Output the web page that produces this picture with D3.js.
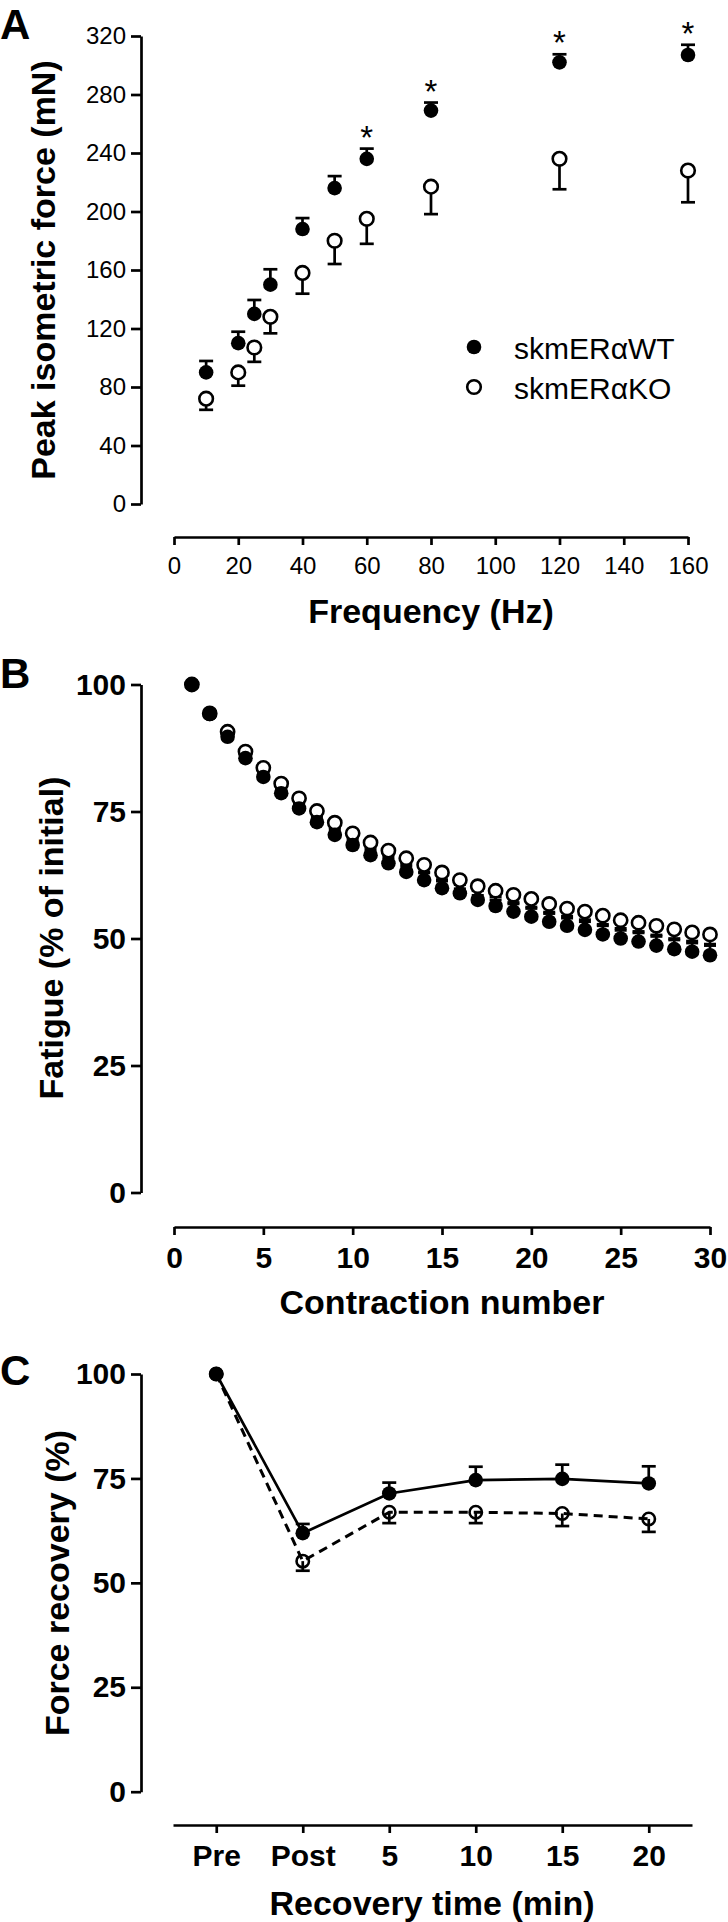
<!DOCTYPE html>
<html><head><meta charset="utf-8">
<script src="https://cdn.jsdelivr.net/npm/d3@7"></script>
<style>
body{margin:0;background:#fff}
svg{display:block}
text{font-family:"Liberation Sans",Arial,Helvetica,sans-serif;fill:#000}
</style>
</head><body>
<svg id="chart" width="728" height="1922"></svg>
<script>
// ---------- Panel A: force-frequency ----------
const freqHz      = [10, 20, 25, 30, 40, 50, 60, 80, 120, 160];
const forceWT     = [90, 110, 130, 150, 188, 216, 236, 269, 302, 307];
const forceWTsem  = [7.8, 7.8, 9.5, 10.5, 7.5, 8.2, 7, 5.5, 5.5, 7];
const forceKO     = [72, 90, 107, 128, 158, 180, 195, 217, 236, 228];
const forceKOsem  = [7.6, 9.1, 9.8, 11.3, 14.2, 15.9, 17.1, 18.8, 20.8, 21.7];
const sigFreq     = [60, 80, 120, 160];
const forceTicksY = [0, 40, 80, 120, 160, 200, 240, 280, 320];
const freqTicksX  = [0, 20, 40, 60, 80, 100, 120, 140, 160];

// ---------- Panel B: fatigue ----------
const contraction  = [1,2,3,4,5,6,7,8,9,10,11,12,13,14,15,16,17,18,19,20,21,22,23,24,25,26,27,28,29,30];
const fatigueWT    = [100,94.2,89.7,85.5,81.8,78.6,75.6,72.9,70.4,68.4,66.4,64.8,63.1,61.5,59.9,58.9,57.6,56.4,55.3,54.3,53.3,52.5,51.7,50.8,50.0,49.4,48.6,47.9,47.4,46.7];
const fatigueWTsem = [0,0.8,1,1,1.1,1.2,1.2,1.3,1.4,1.4,1.5,1.5,1.6,1.6,1.7,1.7,1.8,1.8,1.8,1.9,1.9,1.9,2,2,2,2,2.1,2.1,2.1,2.2];
const fatigueKO    = [100,94.3,90.7,86.8,83.6,80.5,77.6,75.1,72.8,70.7,68.9,67.3,65.8,64.5,63.0,61.5,60.3,59.4,58.6,57.8,56.8,55.9,55.3,54.5,53.6,53.1,52.5,51.8,51.2,50.8];
const fatigueKOsem = [0,0.8,1,1,1.1,1.2,1.2,1.3,1.4,1.4,1.5,1.5,1.6,1.6,1.7,1.7,1.8,1.8,1.8,1.9,1.9,1.9,2,2,2,2,2.1,2.1,2.1,2.2];
const fatigueTicksY = [0, 25, 50, 75, 100];
const contractionTicksX = [0, 5, 10, 15, 20, 25, 30];

// ---------- Panel C: recovery ----------
const recoveryTime  = ["Pre", "Post", "5", "10", "15", "20"];
const recoveryWT    = [100, 61.9, 71.4, 74.6, 74.9, 73.8];
const recoveryWTsem = [0, 2.2, 2.6, 3.2, 3.4, 4.1];
const recoveryKO    = [100, 55.2, 66.9, 66.9, 66.6, 65.3];
const recoveryKOsem = [0, 2.3, 2.6, 2.6, 3.0, 3.1];
const recoveryTicksY = [0, 25, 50, 75, 100];

const seriesNames = ["skmER\u03b1WT", "skmER\u03b1KO"];

// ---------- drawing ----------
const svg = d3.select("#chart");
const SW = 2.7;
const AXX = 141;

function styleAxis(g, fontSize, weight) {
  g.attr("font-family", null).attr("font-size", null);
  g.select(".domain").attr("stroke", "#000").attr("stroke-width", SW);
  g.selectAll(".tick line").attr("stroke", "#000").attr("stroke-width", SW);
  g.selectAll(".tick text").attr("font-size", fontSize).attr("font-weight", weight).attr("fill", "#000");
}

function yAxis(y, ticks, fs, fw) {
  const g = svg.append("g").attr("transform", `translate(${AXX},0)`)
    .call(d3.axisLeft(y).tickValues(ticks).tickSize(10).tickSizeOuter(0).tickPadding(5));
  styleAxis(g, fs, fw);
}
function xAxis(x, ticks, yPos, fs, fw) {
  const ax = d3.axisBottom(x).tickSize(8).tickSizeOuter(0).tickPadding(12);
  if (ticks) ax.tickValues(ticks);
  const g = svg.append("g").attr("transform", `translate(0,${yPos})`).call(ax);
  styleAxis(g, fs, fw);
}
function yTitle(txt, xBase, yc) {
  svg.append("text").attr("transform", `translate(${xBase},${yc}) rotate(-90)`)
    .attr("text-anchor", "middle").attr("font-size", 34).attr("font-weight", "bold").text(txt);
}
function xTitle(txt, xc, yBase) {
  svg.append("text").attr("x", xc).attr("y", yBase)
    .attr("text-anchor", "middle").attr("font-size", 34).attr("font-weight", "bold").text(txt);
}
function panelLabel(txt, yBase) {
  svg.append("text").attr("x", 0).attr("y", yBase)
    .attr("font-size", 42).attr("font-weight", "bold").text(txt);
}
function errBars(g, xs, vals, sems, x, y, dir, cap) {
  xs.forEach((xv, i) => {
    if (!sems[i]) return;
    const cx = x(xv), cy = y(vals[i]), ey = y(vals[i] + dir * sems[i]);
    g.append("line").attr("x1", cx).attr("x2", cx).attr("y1", cy).attr("y2", ey)
      .attr("stroke", "#000").attr("stroke-width", SW);
    g.append("line").attr("x1", cx - cap / 2).attr("x2", cx + cap / 2).attr("y1", ey).attr("y2", ey)
      .attr("stroke", "#000").attr("stroke-width", SW);
  });
}
function markers(g, xs, vals, x, y, filled, r, fillOpen) {
  g.selectAll(null).data(xs).join("circle")
    .attr("cx", d => x(d)).attr("cy", (d, i) => y(vals[i])).attr("r", r)
    .attr("fill", filled ? "#000" : fillOpen)
    .attr("stroke", "#000").attr("stroke-width", filled ? 0 : 2.6);
}

// ===== Panel A =====
{
  const x = d3.scaleLinear().domain([0, 160]).range([174, 688]);
  const y = d3.scaleLinear().domain([0, 320]).range([504, 36]);
  yAxis(y, forceTicksY, 24, "normal");
  xAxis(x, freqTicksX, 537, 24, "normal");
  panelLabel("A", 39);
  yTitle("Peak isometric force (mN)", 55, 270);
  xTitle("Frequency (Hz)", 431, 623);
  const g = svg.append("g");
  errBars(g, freqHz, forceKO, forceKOsem, x, y, -1, 14);
  errBars(g, freqHz, forceWT, forceWTsem, x, y, 1, 14);
  markers(g, freqHz, forceKO, x, y, false, 6.8, "#fff");
  markers(g, freqHz, forceWT, x, y, true, 7.3);
  // significance asterisks
  sigFreq.forEach(f => {
    const i = freqHz.indexOf(f);
    const capY = y(forceWT[i] + forceWTsem[i]);
    g.append("text").attr("x", x(f)).attr("y", capY).attr("text-anchor", "middle")
      .attr("font-size", 33).text("*");
  });
  // legend
  const lg = svg.append("g");
  [[347, true], [387, false]].forEach(([ly, f], k) => {
    lg.append("circle").attr("cx", 474).attr("cy", ly).attr("r", f ? 7.3 : 6.8)
      .attr("fill", f ? "#000" : "#fff").attr("stroke", "#000").attr("stroke-width", f ? 0 : 2.6);
    lg.append("text").attr("x", 514).attr("y", ly + 11.5).attr("font-size", 30).text(seriesNames[k]);
  });
}

// ===== Panel B =====
{
  const x = d3.scaleLinear().domain([0, 30]).range([174, 710]);
  const y = d3.scaleLinear().domain([0, 100]).range([1192.5, 684.5]);
  yAxis(y, fatigueTicksY, 30, "bold");
  xAxis(x, contractionTicksX, 1227, 30, "bold");
  panelLabel("B", 688);
  yTitle("Fatigue (% of initial)", 63, 938);
  xTitle("Contraction number", 442, 1314);
  const g = svg.append("g");
  errBars(g, contraction, fatigueKO, fatigueKOsem, x, y, -1, 12);
  errBars(g, contraction, fatigueWT, fatigueWTsem, x, y, 1, 12);
  markers(g, contraction, fatigueKO, x, y, false, 6.6, "#fff");
  markers(g, contraction, fatigueWT, x, y, true, 7.3);
}

// ===== Panel C =====
{
  const x = d3.scalePoint().domain(recoveryTime).range([173, 692]).padding(0.5);
  const y = d3.scaleLinear().domain([0, 100]).range([1791.7, 1374]);
  yAxis(y, recoveryTicksY, 30, "bold");
  xAxis(x, null, 1825, 30, "bold");
  panelLabel("C", 1385);
  yTitle("Force recovery (%)", 69, 1583);
  xTitle("Recovery time (min)", 432, 1915);
  const g = svg.append("g");
  const line = vals => d3.line().x(d => x(d)).y((d, i) => y(vals[i]))(recoveryTime);
  g.append("path").attr("d", line(recoveryKO)).attr("fill", "none").attr("stroke", "#000")
    .attr("stroke-width", 3).attr("stroke-dasharray", "9,6");
  g.append("path").attr("d", line(recoveryWT)).attr("fill", "none").attr("stroke", "#000")
    .attr("stroke-width", 2.7);
  errBars(g, recoveryTime, recoveryKO, recoveryKOsem, x, y, -1, 14);
  errBars(g, recoveryTime, recoveryWT, recoveryWTsem, x, y, 1, 14);
  markers(g, recoveryTime, recoveryKO, x, y, false, 6.2, "none");
  markers(g, recoveryTime, recoveryWT, x, y, true, 7.3);
}
</script>
</body></html>
